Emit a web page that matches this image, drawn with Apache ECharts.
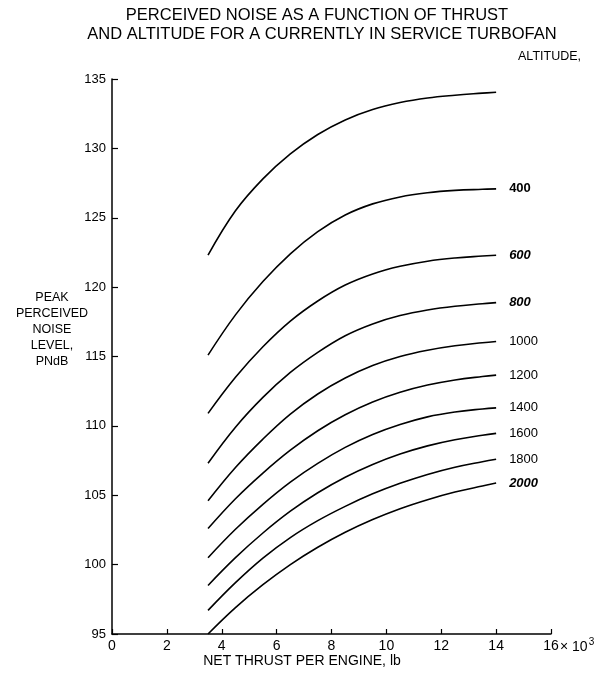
<!DOCTYPE html>
<html>
<head>
<meta charset="utf-8">
<script src="https://cdn.jsdelivr.net/npm/echarts@6/dist/echarts.min.js"></script>
<style>
html,body{margin:0;padding:0;background:#fff;}
#chart{width:600px;height:680px;}
</style>
</head>
<body>
<div id="chart"></div>
<script>
// Net thrust per engine (x 10^3 lb) at which the curves were read
const thrust = [3.5, 4.5, 5.5, 6.5, 7.5, 8.5, 9.5, 10.5, 11.5, 12.5, 13.5, 14];
// Altitude labels (the top curve carries no label in the reference)
const altitudes = ['', '400', '600', '800', '1000', '1200', '1400', '1600', '1800', '2000'];
// Peak perceived noise level, PNdB, per altitude curve
const altTop  = [122.3, 125.5, 127.8, 129.6, 131.0, 132.05, 132.8, 133.3, 133.63, 133.83, 133.98, 134.05];
const alt400  = [115.1, 118.0, 120.4, 122.4, 124.0, 125.2, 126.0, 126.5, 126.8, 126.97, 127.05, 127.08];
const alt600  = [110.9, 113.5, 115.7, 117.55, 119.0, 120.15, 120.95, 121.5, 121.87, 122.1, 122.24, 122.3];
const alt800  = [107.3, 109.9, 112.05, 113.85, 115.3, 116.5, 117.35, 117.95, 118.35, 118.62, 118.8, 118.88];
const alt1000 = [104.6, 107.0, 109.05, 110.85, 112.3, 113.45, 114.35, 115.0, 115.45, 115.77, 115.99, 116.08];
const alt1200 = [102.6, 104.75, 106.6, 108.25, 109.65, 110.8, 111.72, 112.42, 112.94, 113.31, 113.56, 113.66];
const alt1400 = [100.5, 102.55, 104.35, 105.95, 107.3, 108.45, 109.38, 110.1, 110.65, 111.0, 111.22, 111.3];
const alt1600 = [98.5, 100.5, 102.28, 103.85, 105.18, 106.3, 107.22, 107.97, 108.56, 109.0, 109.32, 109.46];
const alt1800 = [96.7, 98.7, 100.47, 101.95, 103.17, 104.2, 105.1, 105.86, 106.5, 107.02, 107.42, 107.6];
const alt2000 = [95.0, 96.9, 98.55, 100.0, 101.25, 102.33, 103.25, 104.03, 104.68, 105.23, 105.67, 105.88];
const xTicks = [0, 2, 4, 6, 8, 10, 12, 14, 16];
const yTicks = [95, 100, 105, 110, 115, 120, 125, 130, 135];

const curves = [altTop, alt400, alt600, alt800, alt1000, alt1200, alt1400, alt1600, alt1800, alt2000];
const italicSet = {'600': true, '800': true, '2000': true};
const boldSet = {'400': true, '600': true, '800': true, '2000': true};

const FONT = '"Liberation Sans", Arial, sans-serif';
const chart = echarts.init(document.getElementById('chart'), null, {renderer: 'canvas'});

const series = curves.map((vals, i) => ({
  type: 'line',
  data: vals.map((v, j) => [thrust[j], v]),
  smooth: 0.4,
  symbol: 'none',
  lineStyle: {color: '#000', width: 1.6},
  silent: true,
  animation: false,
  endLabel: {
    show: altitudes[i] !== '',
    formatter: altitudes[i],
    distance: 13,
    color: '#000',
    fontFamily: FONT,
    fontSize: 13,
    fontStyle: italicSet[altitudes[i]] ? 'italic' : 'normal',
    fontWeight: boldSet[altitudes[i]] ? 'bold' : 'normal'
  }
}));

chart.setOption({
  animation: false,
  grid: {left: 112, right: 49, top: 79, bottom: 46, containLabel: false},
  xAxis: {
    type: 'value', min: xTicks[0], max: xTicks[xTicks.length - 1], interval: 2,
    axisLine: {show: true, lineStyle: {color: '#000', width: 1.5}},
    axisTick: {show: true, inside: true, length: 5, lineStyle: {color: '#000', width: 1.2}},
    splitLine: {show: false},
    axisLabel: {color: '#000', fontFamily: FONT, fontSize: 14, margin: 5}
  },
  yAxis: {
    type: 'value', min: yTicks[0], max: yTicks[yTicks.length - 1], interval: 5,
    axisLine: {show: true, lineStyle: {color: '#000', width: 1.5}},
    axisTick: {show: true, inside: true, length: 6, lineStyle: {color: '#000', width: 1.2}},
    splitLine: {show: false},
    axisLabel: {color: '#000', fontFamily: FONT, fontSize: 13, margin: 6}
  },
  series: series
});

const p16 = chart.convertToPixel({xAxisIndex: 0, yAxisIndex: 0}, [16, 95]);

chart.setOption({
  graphic: [
    {type: 'text', x: 317, y: 15, silent: true,
     style: {text: 'PERCEIVED NOISE AS A FUNCTION OF THRUST', fill: '#000', font: '16.5px ' + FONT, align: 'center', verticalAlign: 'middle'}},
    {type: 'text', x: 322, y: 34, silent: true,
     style: {text: 'AND ALTITUDE FOR A CURRENTLY IN SERVICE TURBOFAN', fill: '#000', font: '16.5px ' + FONT, align: 'center', verticalAlign: 'middle'}},
    {type: 'text', x: 581, y: 57, silent: true,
     style: {text: 'ALTITUDE,', fill: '#000', font: '12.5px ' + FONT, align: 'right', verticalAlign: 'middle'}},
    {type: 'text', x: 52, y: 290, silent: true,
     style: {text: 'PEAK\nPERCEIVED\nNOISE\nLEVEL,\nPNdB', fill: '#000', font: '12.5px ' + FONT, align: 'center', verticalAlign: 'top', lineHeight: 16}},
    {type: 'text', x: 302, y: 661, silent: true,
     style: {text: 'NET THRUST PER ENGINE, lb', fill: '#000', font: '14px ' + FONT, align: 'center', verticalAlign: 'middle'}},
    {type: 'text', x: p16[0] + 9, y: p16[1] + 13, silent: true,
     style: {text: '× 10{s|3}', fill: '#000', font: '14px ' + FONT, align: 'left', verticalAlign: 'middle',
       rich: {s: {fontSize: 10, fontFamily: FONT, verticalAlign: 'top', padding: [0, 0, 10, 1]}}}}
  ]
});
</script>
</body>
</html>
